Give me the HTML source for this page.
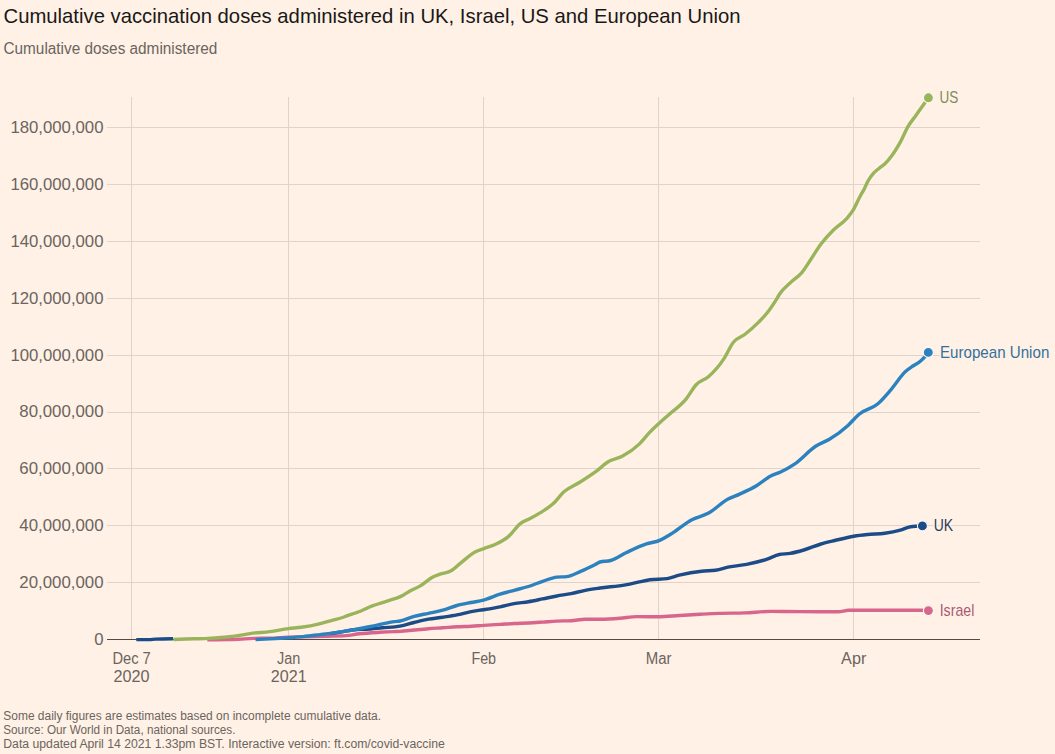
<!DOCTYPE html>
<html><head><meta charset="utf-8"><style>
html,body{margin:0;padding:0;background:#fff1e5;width:1055px;height:754px;overflow:hidden}
svg{display:block;font-family:"Liberation Sans",sans-serif}
</style></head><body>
<svg width="1055" height="754" viewBox="0 0 1055 754">
<rect width="1055" height="754" fill="#fff1e5"/>
<line x1="107" x2="980" y1="127.5" y2="127.5" stroke="#e1d3c7" stroke-width="1"/>
<line x1="107" x2="980" y1="184.5" y2="184.5" stroke="#e1d3c7" stroke-width="1"/>
<line x1="107" x2="980" y1="241.5" y2="241.5" stroke="#e1d3c7" stroke-width="1"/>
<line x1="107" x2="980" y1="298.5" y2="298.5" stroke="#e1d3c7" stroke-width="1"/>
<line x1="107" x2="980" y1="355.5" y2="355.5" stroke="#e1d3c7" stroke-width="1"/>
<line x1="107" x2="980" y1="412.5" y2="412.5" stroke="#e1d3c7" stroke-width="1"/>
<line x1="107" x2="980" y1="468.5" y2="468.5" stroke="#e1d3c7" stroke-width="1"/>
<line x1="107" x2="980" y1="525.5" y2="525.5" stroke="#e1d3c7" stroke-width="1"/>
<line x1="107" x2="980" y1="582.5" y2="582.5" stroke="#e1d3c7" stroke-width="1"/>
<line x1="131.5" x2="131.5" y1="97" y2="639" stroke="#e1d3c7" stroke-width="1"/>
<line x1="288.5" x2="288.5" y1="97" y2="639" stroke="#e1d3c7" stroke-width="1"/>
<line x1="483.5" x2="483.5" y1="97" y2="639" stroke="#e1d3c7" stroke-width="1"/>
<line x1="658.5" x2="658.5" y1="97" y2="639" stroke="#e1d3c7" stroke-width="1"/>
<line x1="853.5" x2="853.5" y1="97" y2="639" stroke="#e1d3c7" stroke-width="1"/>
<line x1="107" x2="980" y1="639.5" y2="639.5" stroke="#524a45" stroke-width="1"/>
<text x="103.5" y="645.0" text-anchor="end" font-size="15.9" fill="#6b6460" textLength="9.3" lengthAdjust="spacingAndGlyphs">0</text>
<text x="103.5" y="588.1" text-anchor="end" font-size="15.9" fill="#6b6460" textLength="84.2" lengthAdjust="spacingAndGlyphs">20,000,000</text>
<text x="103.5" y="531.2" text-anchor="end" font-size="15.9" fill="#6b6460" textLength="84.2" lengthAdjust="spacingAndGlyphs">40,000,000</text>
<text x="103.5" y="474.3" text-anchor="end" font-size="15.9" fill="#6b6460" textLength="84.2" lengthAdjust="spacingAndGlyphs">60,000,000</text>
<text x="103.5" y="417.4" text-anchor="end" font-size="15.9" fill="#6b6460" textLength="84.2" lengthAdjust="spacingAndGlyphs">80,000,000</text>
<text x="103.5" y="360.6" text-anchor="end" font-size="15.9" fill="#6b6460" textLength="93.1" lengthAdjust="spacingAndGlyphs">100,000,000</text>
<text x="103.5" y="303.7" text-anchor="end" font-size="15.9" fill="#6b6460" textLength="93.1" lengthAdjust="spacingAndGlyphs">120,000,000</text>
<text x="103.5" y="246.8" text-anchor="end" font-size="15.9" fill="#6b6460" textLength="93.1" lengthAdjust="spacingAndGlyphs">140,000,000</text>
<text x="103.5" y="189.9" text-anchor="end" font-size="15.9" fill="#6b6460" textLength="93.1" lengthAdjust="spacingAndGlyphs">160,000,000</text>
<text x="103.5" y="133.0" text-anchor="end" font-size="15.9" fill="#6b6460" textLength="93.1" lengthAdjust="spacingAndGlyphs">180,000,000</text>
<text x="112.4" y="663.8" font-size="15.8" fill="#6b6460" textLength="38.3" lengthAdjust="spacingAndGlyphs">Dec 7</text>
<text x="113.5" y="681.7" font-size="15.8" fill="#6b6460" textLength="36.1" lengthAdjust="spacingAndGlyphs">2020</text>
<text x="277.1" y="663.8" font-size="15.8" fill="#6b6460" textLength="23.3" lengthAdjust="spacingAndGlyphs">Jan</text>
<text x="270.8" y="681.7" font-size="15.8" fill="#6b6460" textLength="35.8" lengthAdjust="spacingAndGlyphs">2021</text>
<text x="471.4" y="663.8" font-size="15.8" fill="#6b6460" textLength="24.7" lengthAdjust="spacingAndGlyphs">Feb</text>
<text x="645.8" y="663.8" font-size="15.8" fill="#6b6460" textLength="25.8" lengthAdjust="spacingAndGlyphs">Mar</text>
<text x="841.1" y="663.8" font-size="15.8" fill="#6b6460" textLength="25.2" lengthAdjust="spacingAndGlyphs">Apr</text>
<path d="M207.30,639.80 C214.37,639.77 221.43,639.73 228.50,639.60 C232.03,639.53 235.57,639.36 239.10,639.20 C243.73,638.99 248.37,638.51 253.00,638.40 C258.67,638.27 264.33,638.33 270.00,638.20 C276.00,638.06 282.00,637.33 288.00,637.10 C293.00,636.91 298.00,636.91 303.00,636.80 C311.00,636.62 319.00,636.43 327.00,636.20 C333.33,636.02 339.67,636.00 346.00,635.60 C350.47,635.32 354.93,634.29 359.40,633.80 C366.27,633.04 373.13,632.70 380.00,632.30 C384.90,632.02 389.80,631.80 394.70,631.60 C396.47,631.53 398.23,631.50 400.00,631.40 C404.73,631.14 409.47,630.45 414.20,630.00 C418.93,629.55 423.67,629.07 428.40,628.70 C433.17,628.33 437.93,628.12 442.70,627.80 C447.43,627.48 452.17,627.07 456.90,626.80 C461.63,626.53 466.37,626.46 471.10,626.20 C475.20,625.98 479.30,625.66 483.40,625.40 C488.93,625.05 494.47,624.74 500.00,624.40 C504.73,624.11 509.47,623.73 514.20,623.50 C518.93,623.27 523.67,623.23 528.40,623.00 C533.17,622.77 537.93,622.42 542.70,622.10 C547.43,621.78 552.17,621.33 556.90,621.10 C561.63,620.87 566.37,620.97 571.10,620.70 C575.83,620.43 580.57,619.36 585.30,619.30 C590.20,619.23 595.10,619.27 600.00,619.20 C606.63,619.11 613.27,618.69 619.90,618.20 C625.63,617.78 631.37,616.60 637.10,616.60 C644.20,616.60 651.30,616.80 658.40,616.80 C665.47,616.80 672.53,615.92 679.60,615.50 C686.40,615.09 693.20,614.66 700.00,614.30 C706.33,613.97 712.67,613.62 719.00,613.40 C727.60,613.09 736.20,613.23 744.80,612.90 C753.43,612.57 762.07,611.40 770.70,611.40 C780.47,611.40 790.23,611.54 800.00,611.60 C812.77,611.68 825.53,611.80 838.30,611.80 C841.73,611.80 845.17,610.30 848.60,610.30 C872.73,610.30 896.87,610.30 921.00,610.30 C923.47,610.30 925.93,610.45 928.40,610.60" fill="none" stroke="#d8658b" stroke-width="3.4" stroke-linejoin="round" stroke-linecap="butt"/>
<path d="M136.30,639.60 C140.50,639.60 144.70,639.60 148.90,639.60 C151.10,639.60 153.30,639.20 155.50,639.10 C161.33,638.83 167.17,638.77 173.00,638.70" fill="none" stroke="#1b4c88" stroke-width="3.4" stroke-linejoin="round" stroke-linecap="butt"/>
<path d="M330.00,633.60 C333.00,633.17 336.00,632.74 339.00,632.30 C345.00,631.41 351.00,629.77 357.00,629.50 C360.00,629.37 363.00,629.43 366.00,629.30 C371.47,629.06 376.93,628.30 382.40,627.80 C388.27,627.26 394.13,627.27 400.00,626.20 C404.73,625.34 409.47,623.67 414.20,622.50 C418.93,621.33 423.67,620.08 428.40,619.20 C433.17,618.31 437.93,617.92 442.70,617.20 C447.43,616.49 452.17,615.83 456.90,614.90 C461.63,613.97 466.37,612.50 471.10,611.60 C475.20,610.82 479.30,610.37 483.40,609.70 C488.93,608.80 494.47,607.92 500.00,606.80 C504.73,605.84 509.47,604.45 514.20,603.60 C518.93,602.75 523.67,602.48 528.40,601.70 C533.17,600.91 537.93,599.85 542.70,598.90 C547.43,597.95 552.17,596.88 556.90,596.00 C561.63,595.12 566.37,594.55 571.10,593.60 C575.83,592.65 580.57,591.22 585.30,590.30 C590.20,589.34 595.10,588.70 600.00,588.00 C608.50,586.78 617.00,586.49 625.50,584.90 C629.73,584.11 633.97,582.98 638.20,582.10 C642.13,581.28 646.07,580.35 650.00,579.80 C655.73,579.00 661.47,579.40 667.20,578.60 C671.23,578.04 675.27,576.19 679.30,575.20 C686.77,573.37 694.23,572.01 701.70,571.20 C706.30,570.70 710.90,570.90 715.50,570.30 C720.10,569.70 724.70,567.84 729.30,566.90 C735.07,565.73 740.83,565.44 746.60,564.30 C753.47,562.95 760.33,561.39 767.20,559.10 C771.23,557.76 775.27,555.33 779.30,554.50 C782.87,553.77 786.43,553.99 790.00,553.40 C794.60,552.64 799.20,551.34 803.80,550.00 C809.53,548.33 815.27,545.70 821.00,544.00 C825.60,542.64 830.20,541.61 834.80,540.50 C841.13,538.97 847.47,537.25 853.80,536.20 C858.40,535.43 863.00,534.96 867.60,534.50 C873.33,533.93 879.07,534.09 884.80,533.30 C889.97,532.59 895.13,531.66 900.30,530.20 C903.77,529.22 907.23,527.20 910.70,526.70 C913.00,526.37 915.30,526.35 917.60,526.20 C919.20,526.09 920.80,526.00 922.40,525.90" fill="none" stroke="#1b4c88" stroke-width="3.4" stroke-linejoin="round" stroke-linecap="butt"/>
<path d="M173.40,639.50 C180.47,639.24 187.53,638.97 194.60,638.80 C197.93,638.72 201.27,638.72 204.60,638.60 C211.23,638.37 217.87,637.97 224.50,637.30 C231.13,636.63 237.77,635.72 244.40,634.60 C246.27,634.28 248.13,633.90 250.00,633.60 C256.63,632.53 263.27,632.48 269.90,631.60 C276.10,630.78 282.30,629.41 288.50,628.60 C292.77,628.04 297.03,627.80 301.30,627.20 C307.00,626.40 312.70,625.43 318.40,624.10 C322.67,623.10 326.93,621.78 331.20,620.60 C335.47,619.42 339.73,618.41 344.00,617.00 C346.83,616.06 349.67,614.90 352.50,613.90 C355.33,612.90 358.17,612.13 361.00,611.00 C364.03,609.79 367.07,608.07 370.10,606.80 C376.27,604.22 382.43,602.81 388.60,600.70 C392.70,599.30 396.80,598.41 400.90,596.40 C403.93,594.91 406.97,592.66 410.00,591.00 C413.43,589.12 416.87,587.95 420.30,585.90 C424.33,583.49 428.37,579.30 432.40,577.20 C434.93,575.88 437.47,575.09 440.00,574.20 C443.53,572.96 447.07,573.03 450.60,571.10 C454.13,569.17 457.67,565.38 461.20,562.60 C465.80,558.98 470.40,554.50 475.00,552.00 C478.17,550.28 481.33,549.49 484.50,548.30 C488.03,546.98 491.57,546.15 495.10,544.50 C499.70,542.35 504.30,540.11 508.90,536.10 C512.80,532.70 516.70,526.28 520.60,523.30 C523.77,520.88 526.93,520.29 530.10,518.60 C533.40,516.84 536.70,514.97 540.00,512.90 C544.43,510.11 548.87,507.72 553.30,503.60 C556.83,500.32 560.37,495.00 563.90,491.80 C569.20,486.99 574.50,485.65 579.80,482.30 C585.10,478.95 590.40,475.57 595.70,471.70 C600.13,468.47 604.57,463.87 609.00,461.30 C613.40,458.75 617.80,458.61 622.20,456.30 C627.97,453.27 633.73,449.52 639.50,443.90 C643.03,440.46 646.57,435.57 650.10,431.90 C653.40,428.48 656.70,425.52 660.00,422.50 C662.93,419.81 665.87,417.32 668.80,414.70 C674.53,409.58 680.27,406.08 686.00,399.10 C689.47,394.88 692.93,388.15 696.40,384.50 C700.40,380.28 704.40,380.19 708.40,376.70 C713.60,372.17 718.80,366.53 724.00,358.60 C727.13,353.82 730.27,346.15 733.40,342.20 C737.17,337.45 740.93,337.41 744.70,334.50 C749.27,330.97 753.83,327.05 758.40,322.40 C761.93,318.80 765.47,315.24 769.00,310.50 C771.00,307.82 773.00,304.87 775.00,301.70 C776.53,299.27 778.07,296.28 779.60,294.00 C783.30,288.49 787.00,285.97 790.70,282.40 C794.40,278.83 798.10,277.03 801.80,272.60 C805.00,268.77 808.20,263.25 811.40,258.50 C814.60,253.75 817.80,248.38 821.00,244.10 C825.23,238.43 829.47,234.00 833.70,229.80 C837.93,225.60 842.17,223.72 846.40,218.90 C848.53,216.47 850.67,214.08 852.80,210.70 C855.47,206.48 858.13,199.77 860.80,195.00 C861.87,193.09 862.93,191.53 864.00,189.50 C865.33,186.97 866.67,183.43 868.00,181.00 C869.80,177.72 871.60,175.49 873.40,173.40 C875.33,171.16 877.27,169.80 879.20,168.20 C881.13,166.60 883.07,165.64 885.00,163.80 C887.43,161.49 889.87,158.50 892.30,155.10 C894.73,151.70 897.17,147.73 899.60,143.40 C902.53,138.19 905.47,130.79 908.40,125.90 C910.83,121.85 913.27,119.13 915.70,115.70 C918.63,111.57 921.57,107.29 924.50,103.20 C925.80,101.39 927.10,99.59 928.40,97.80" fill="none" stroke="#9ab45c" stroke-width="3.4" stroke-linejoin="round" stroke-linecap="butt"/>
<path d="M255.50,639.60 C260.30,639.38 265.10,639.16 269.90,638.90 C275.43,638.60 280.97,638.28 286.50,637.90 C292.03,637.52 297.57,637.14 303.10,636.60 C308.73,636.05 314.37,635.30 320.00,634.60 C326.43,633.81 332.87,633.06 339.30,632.10 C345.47,631.18 351.63,630.13 357.80,629.00 C363.97,627.87 370.13,626.54 376.30,625.30 C382.43,624.07 388.57,622.41 394.70,621.60 C396.47,621.37 398.23,621.30 400.00,621.00 C404.73,620.19 409.47,617.68 414.20,616.40 C418.93,615.12 423.67,614.33 428.40,613.30 C433.17,612.26 437.93,611.51 442.70,610.20 C447.43,608.90 452.17,606.78 456.90,605.50 C461.63,604.22 466.37,603.44 471.10,602.50 C475.20,601.69 479.30,601.27 483.40,600.20 C488.93,598.75 494.47,595.94 500.00,594.20 C504.73,592.71 509.47,591.58 514.20,590.30 C518.93,589.02 523.67,587.99 528.40,586.50 C533.17,585.00 537.93,582.87 542.70,581.30 C547.43,579.74 552.17,577.60 556.90,577.10 C560.07,576.77 563.23,576.93 566.40,576.60 C571.13,576.10 575.87,573.38 580.60,571.40 C585.33,569.42 590.07,567.10 594.80,564.70 C596.53,563.82 598.27,562.49 600.00,562.00 C603.53,561.00 607.07,561.50 610.60,560.50 C615.90,559.00 621.20,555.00 626.50,552.50 C633.13,549.37 639.77,546.09 646.40,543.90 C650.83,542.43 655.27,542.31 659.70,540.40 C662.80,539.06 665.90,537.21 669.00,535.30 C671.63,533.68 674.27,531.78 676.90,530.00 C681.73,526.73 686.57,522.70 691.40,520.00 C697.13,516.80 702.87,516.29 708.60,513.10 C714.93,509.58 721.27,502.75 727.60,499.30 C731.63,497.10 735.67,495.95 739.70,494.10 C745.43,491.47 751.17,488.97 756.90,485.50 C761.50,482.72 766.10,478.42 770.70,476.00 C774.17,474.18 777.63,473.45 781.10,471.80 C785.43,469.73 789.77,467.29 794.10,464.40 C801.53,459.44 808.97,450.43 816.40,445.80 C820.73,443.10 825.07,441.91 829.40,439.30 C835.60,435.57 841.80,431.05 848.00,425.40 C851.70,422.03 855.40,417.30 859.10,414.20 C865.27,409.04 871.43,409.28 877.60,404.00 C881.93,400.29 886.27,395.08 890.60,390.10 C895.57,384.39 900.53,376.16 905.50,371.60 C907.97,369.34 910.43,367.72 912.90,366.00 C915.37,364.28 917.83,363.38 920.30,361.30 C921.87,359.98 923.43,358.48 925.00,356.70 C926.10,355.45 927.20,354.03 928.30,352.60" fill="none" stroke="#2b82bf" stroke-width="3.4" stroke-linejoin="round" stroke-linecap="butt"/>
<circle cx="928.4" cy="97.8" r="5.0" fill="#9ab45c" stroke="#fbf8f4" stroke-width="1.1"/>
<text x="939.5" y="102.7" font-size="15.9" fill="#7f8c58" stroke="#fff1e5" stroke-width="3" paint-order="stroke" textLength="18.8" lengthAdjust="spacingAndGlyphs">US</text>
<circle cx="928.3" cy="352.4" r="5.0" fill="#2b82bf" stroke="#fbf8f4" stroke-width="1.1"/>
<text x="940" y="357.6" font-size="15.9" fill="#35709c" stroke="#fff1e5" stroke-width="3" paint-order="stroke" textLength="109.3" lengthAdjust="spacingAndGlyphs">European Union</text>
<circle cx="922.4" cy="525.9" r="5.0" fill="#1b4c88" stroke="#fbf8f4" stroke-width="1.1"/>
<text x="933.7" y="531" font-size="15.9" fill="#283d5a" stroke="#fff1e5" stroke-width="3" paint-order="stroke" textLength="19.4" lengthAdjust="spacingAndGlyphs">UK</text>
<circle cx="928.4" cy="610.6" r="5.0" fill="#d8658b" stroke="#fbf8f4" stroke-width="1.1"/>
<text x="939.7" y="615.6" font-size="15.9" fill="#a85a75" stroke="#fff1e5" stroke-width="3" paint-order="stroke" textLength="34.6" lengthAdjust="spacingAndGlyphs">Israel</text>
<text x="3.5" y="22.6" font-size="20.6" fill="#1a1817" textLength="737" lengthAdjust="spacingAndGlyphs">Cumulative vaccination doses administered in UK, Israel, US and European Union</text>
<text x="3.5" y="53.7" font-size="16" fill="#6b6460" textLength="213.8" lengthAdjust="spacingAndGlyphs">Cumulative doses administered</text>
<text x="3.3" y="720.2" font-size="12" fill="#6b6460" textLength="377.7" lengthAdjust="spacingAndGlyphs">Some daily figures are estimates based on incomplete cumulative data.</text>
<text x="3.3" y="733.7" font-size="12" fill="#6b6460" textLength="232.1" lengthAdjust="spacingAndGlyphs">Source: Our World in Data, national sources.</text>
<text x="3.3" y="747.9" font-size="12" fill="#6b6460" textLength="441.5" lengthAdjust="spacingAndGlyphs">Data updated April 14 2021 1.33pm BST. Interactive version: ft.com/covid-vaccine</text>
</svg>
</body></html>
